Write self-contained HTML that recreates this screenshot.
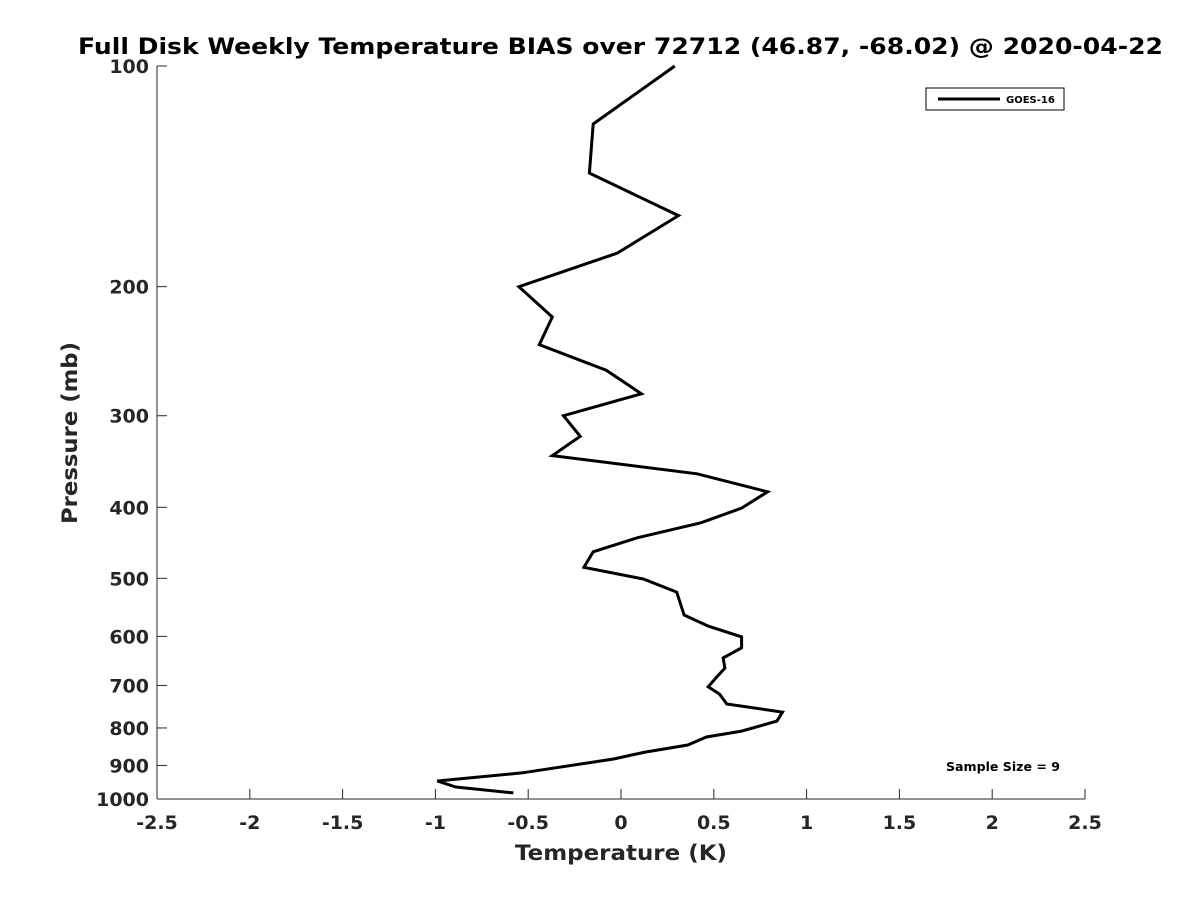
<!DOCTYPE html>
<html><head><meta charset="utf-8"><style>
body{margin:0;background:#fff;}
svg text{font-family:"DejaVu Sans","Liberation Sans",sans-serif;font-weight:bold;fill:#262626;}
</style></head><body>
<svg id="chart" width="1200" height="900" xmlns="http://www.w3.org/2000/svg">
<text x="78" y="54" textLength="1085" lengthAdjust="spacingAndGlyphs" font-size="22" style="fill:#000">Full Disk Weekly Temperature BIAS over 72712 (46.87, -68.02) @ 2020-04-22</text>
<g id="axes"></g>
<g id="series"></g>
<g>
<rect x="926" y="88" width="138" height="22" fill="#fff" stroke="#000" stroke-width="1"/>
<line x1="938" y1="99" x2="1000" y2="99" stroke="#000" stroke-width="3"/>
<text x="1006" y="103" font-size="10" style="fill:#000">GOES-16</text>
</g>
<text x="946" y="771" textLength="114" lengthAdjust="spacingAndGlyphs" font-size="12" style="fill:#000">Sample Size = 9</text>
<text x="515" y="860" textLength="212" lengthAdjust="spacingAndGlyphs" font-size="21">Temperature (K)</text>
<text transform="translate(77,524) rotate(-90)" textLength="182" lengthAdjust="spacingAndGlyphs" font-size="21">Pressure (mb)</text>
</svg>
<script>
const temperature=[0.29,-0.15,-0.17,0.31,-0.02,-0.55,-0.37,-0.44,-0.08,0.11,-0.31,-0.22,-0.37,0.41,0.79,0.65,0.43,0.09,-0.15,-0.2,0.12,0.30,0.34,0.47,0.65,0.65,0.55,0.56,0.51,0.47,0.53,0.57,0.87,0.84,0.65,0.46,0.36,0.13,-0.04,-0.53,-0.99,-0.89,-0.58];
const pressure=[100,120,140,160,180,200,220,240,260,280,300,320,340,360,381,401,420,440,460,483,501,522,561,581,601,622,642,663,684,703,719,742,761,783,808,823,844,863,882,921,945,963,981];
const xTicks=[-2.5,-2,-1.5,-1,-0.5,0,0.5,1,1.5,2,2.5];
const yTicks=[100,200,300,400,500,600,700,800,900,1000];
const L=157,R=1085,T=66,B=799;
const xs=v=>L+(v+2.5)/5*(R-L);
const ys=p=>T+Math.log10(p/100)*(B-T);
const NS='http://www.w3.org/2000/svg';
const axes=document.getElementById('axes');
function mk(tag,attrs,parent){const e=document.createElementNS(NS,tag);for(const k in attrs)e.setAttribute(k,attrs[k]);parent.appendChild(e);return e;}
let a=mk('line',{x1:L,y1:B,x2:R,y2:B,stroke:'#262626','stroke-width':1},axes);


a=mk('line',{x1:L,y1:T,x2:L,y2:B,stroke:'#262626','stroke-width':1},axes);


xTicks.forEach(v=>{
 const t=mk('line',{x1:xs(v),y1:B,x2:xs(v),y2:B-10,stroke:'#262626'},axes);
 
 
 const l=mk('text',{x:xs(v),y:B+30,'text-anchor':'middle','font-size':19},axes);
 l.textContent=String(v);
 
 
});
yTicks.forEach(v=>{
 const t=mk('line',{x1:L,y1:ys(v),x2:L+10,y2:ys(v),stroke:'#262626'},axes);
 
 
 const l=mk('text',{x:L-8,y:ys(v)+7,'text-anchor':'end','font-size':19},axes);
 l.textContent=String(v);
 
 
});
const pts=temperature.map((t,i)=>xs(t).toFixed(1)+','+ys(pressure[i]).toFixed(1)).join(' ');
const line=mk('polyline',{points:pts,fill:'none',stroke:'#000','stroke-width':3,'stroke-linejoin':'miter'},document.getElementById('series'));


</script>
</body></html>
